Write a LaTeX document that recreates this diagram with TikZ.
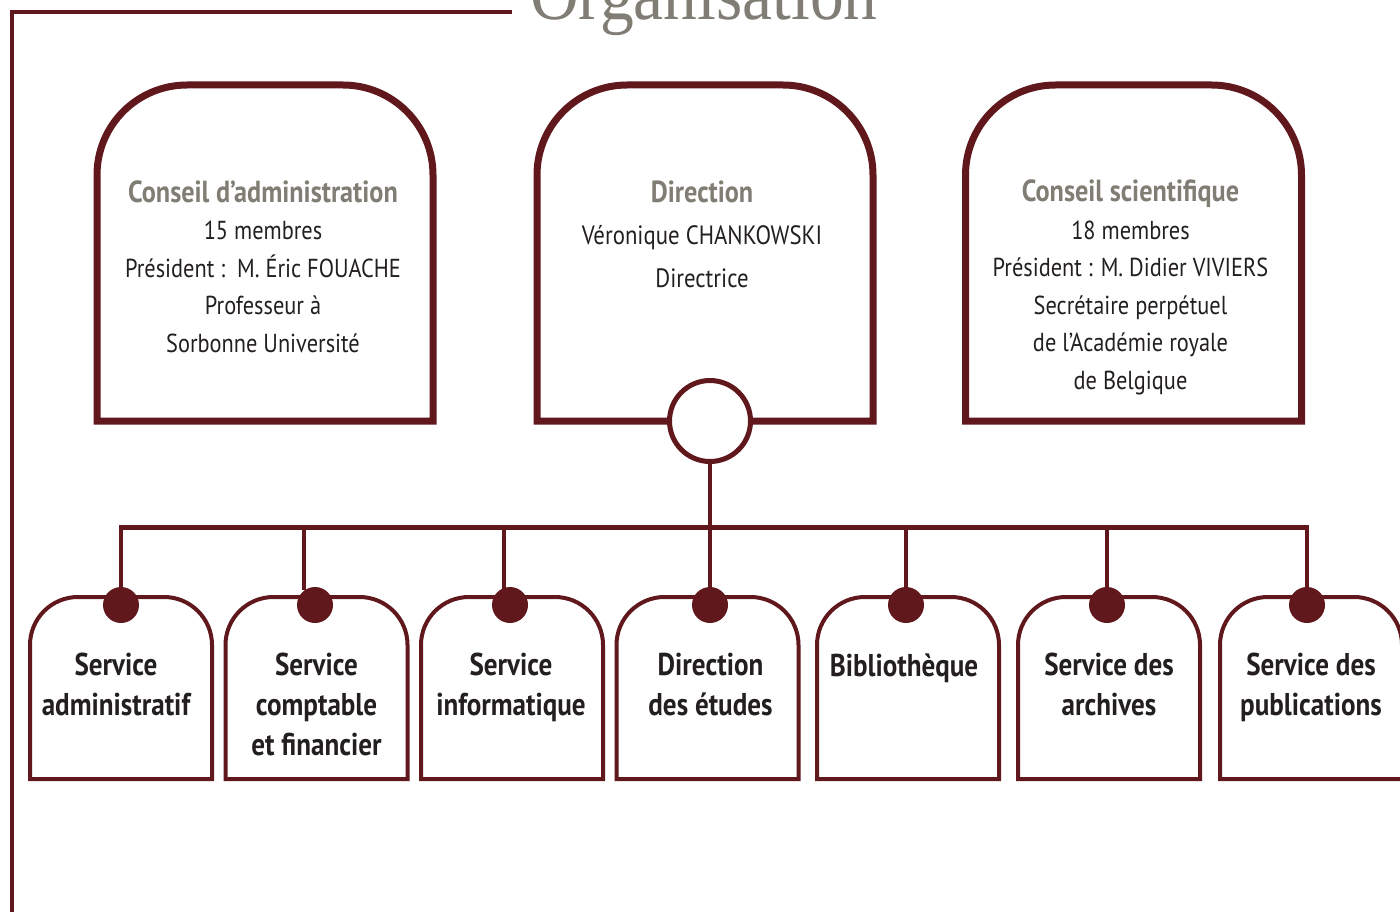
\documentclass[tikz,border=0pt]{standalone}
\usepackage{fontspec}
\setmainfont[FakeStretch=0.86]{PT Sans}
\newfontfamily\titlefont[FakeStretch=0.9]{Liberation Serif}
\usetikzlibrary{calc}
\definecolor{bordeaux}{RGB}{96,24,29}
\definecolor{titlegray}{RGB}{128,125,116}
\definecolor{inkgray}{RGB}{35,31,32}
\tikzset{
    arch box/.style n args={2}{
        insert path={
            let \p1 = (#1.south west), \p2 = (#1.north east) in     % corners of the box
            (\x1,\y1) -- (\x1,\y2-#2) arc[start angle=180, end angle=90, radius=#2]
            -- (\x2-#2,\y2) arc[start angle=90, end angle=0, radius=#2] -- (\x2,\y1) -- cycle
        }
    },
    bigbox/.style={minimum width=336pt, minimum height=336pt, inner sep=0pt, outer sep=0pt},
    smallbox/.style={minimum width=182pt, minimum height=182pt, inner sep=0pt, outer sep=0pt},
    toptext/.style={anchor=base, align=center, inner sep=0pt, text=inkgray, font=\fontsize{26}{37.5}\selectfont},
    servtext/.style={anchor=base, align=center, inner sep=0pt, text=inkgray, font=\bfseries\fontsize{31.5}{40}\selectfont},
    dot/.style={circle, fill=bordeaux, minimum size=36pt, inner sep=0pt},
    hub/.style={circle, draw=bordeaux, fill=white, line width=5pt, minimum size=81pt, inner sep=0pt}
}
\newcommand{\head}[1]{{\color{titlegray}\bfseries\fontsize{30.5}{37.5}\selectfont #1}}

\begin{document}
\begin{tikzpicture}[x=1pt, y=1pt]
			\useasboundingbox (0,0) rectangle (1400,-912);

			\coordinate (frameTop) at (512,-12);
			\coordinate (frameCorner) at (12,-12);
			\coordinate (frameBottom) at (12,-920);
			\draw[bordeaux, line width=4.5pt] (frameTop) -- (frameCorner) -- (frameBottom);
			\node[anchor=base west, inner sep=0pt, text=titlegray, font=\titlefont\fontsize{75}{75}\selectfont] (title) at (530,-20) {Organisation};

			\node[bigbox] (conseil) at (265,-253) {};
			\node[bigbox] (direction) at (705,-253) {};
			\node[bigbox] (scientifique) at (1133.5,-253) {};

			\node[smallbox] (sAdmin) at (121,-688) {};
			\node[smallbox] (sCompta) at (316.5,-688) {};
			\node[smallbox] (sInfo) at (512,-688) {};
			\node[smallbox] (dEtudes) at (707.5,-688) {};
			\node[smallbox] (biblio) at (908,-688) {};
			\node[smallbox] (archives) at (1109,-688) {};
			\node[smallbox] (publi) at (1311,-688) {};

			\draw[bordeaux, line width=7pt, arch box={conseil}{90pt}];
			\draw[bordeaux, line width=7pt, arch box={direction}{90pt}];
			\draw[bordeaux, line width=7pt, arch box={scientifique}{90pt}];

			\draw[bordeaux, line width=4pt, arch box={sAdmin}{48pt}];
			\draw[bordeaux, line width=4pt, arch box={sCompta}{48pt}];
			\draw[bordeaux, line width=4pt, arch box={sInfo}{48pt}];
			\draw[bordeaux, line width=4pt, arch box={dEtudes}{48pt}];
			\draw[bordeaux, line width=4pt, arch box={biblio}{48pt}];
			\draw[bordeaux, line width=4pt, arch box={archives}{48pt}];
			\draw[bordeaux, line width=4pt, arch box={publi}{48pt}];

			\node[dot] (dot1) at ($(sAdmin.north)+(0,-8)$) {};
			\node[dot] (dot2) at ($(sCompta.north)+(-1.5,-8)$) {};
			\node[dot] (dot3) at ($(sInfo.north)+(-2,-8)$) {};
			\node[dot] (dot4) at ($(dEtudes.north)+(2.5,-8)$) {};
			\node[dot] (dot5) at ($(biblio.north)+(-2,-8)$) {};
			\node[dot] (dot6) at ($(archives.north)+(-2,-8)$) {};
			\node[dot] (dot7) at ($(publi.north)+(-4,-8)$) {};

			\node[hub] (hub) at ($(direction.south)+(5,0)$) {};
			\coordinate (bar) at (710,-527);
			\coordinate (tap2) at (304,-527);
			\coordinate (tap3) at (504,-527);

			\draw[bordeaux, line width=5pt] ($(dot1.center |- bar)+(-2,0)$) -- ($(dot7.center |- bar)+(2,0)$);
			\draw[bordeaux, line width=4pt] (hub.south) -- (dot4.north);
			\draw[bordeaux, line width=4pt] (dot1.center |- bar) -- (dot1.north);
			\draw[bordeaux, line width=4pt] (tap2) -- ($(tap2 |- dot2.north)+(0,-3)$);
			\draw[bordeaux, line width=4pt] (tap3) -- ($(tap3 |- dot3.north)+(0,-2)$);
			\draw[bordeaux, line width=4pt] (dot5.center |- bar) -- (dot5.north);
			\draw[bordeaux, line width=4pt] (dot6.center |- bar) -- (dot6.north);
			\draw[bordeaux, line width=4pt] (dot7.center |- bar) -- (dot7.north);

			% anchor=base sits on the last line
			\node[toptext] (conseilText) at ($(conseil.north)+(-2,-267)$) {\head{Conseil d’administration}\\15 membres\\Président :~~M. Éric FOUACHE\\Professeur à\\Sorbonne Université};
			\node[toptext, font=\fontsize{26.5}{42.5}\selectfont] (directionText) at ($(direction.north)+(-3,-202)$) {\head{Direction}\\Véronique CHANKOWSKI\\Directrice};
			\node[toptext] (scientifiqueText) at ($(scientifique.north)+(-3,-304)$) {\head{Conseil scientifique}\\18 membres\\Président : M. Didier VIVIERS\\Secrétaire perpétuel\\de l’Académie royale\\de Belgique};

			\node[servtext] (sAdminText) at ($(sAdmin.north)+(-5,-118)$) {Service\\administratif};
			\node[servtext] (sComptaText) at ($(sCompta.north)+(0,-158)$) {Service\\comptable\\et financier};
			\node[servtext] (sInfoText) at ($(sInfo.north)+(-1,-118)$) {Service\\informatique};
			\node[servtext] (dEtudesText) at ($(dEtudes.north)+(3,-118)$) {Direction\\des études};
			\node[servtext] (biblioText) at ($(biblio.north)+(-4,-79)$) {Bibliothèque};
			\node[servtext] (archivesText) at ($(archives.north)+(0,-118)$) {Service des\\archives};
			\node[servtext] (publiText) at ($(publi.north)+(0,-118)$) {Service des\\publications};

		\end{tikzpicture}
\end{document}
